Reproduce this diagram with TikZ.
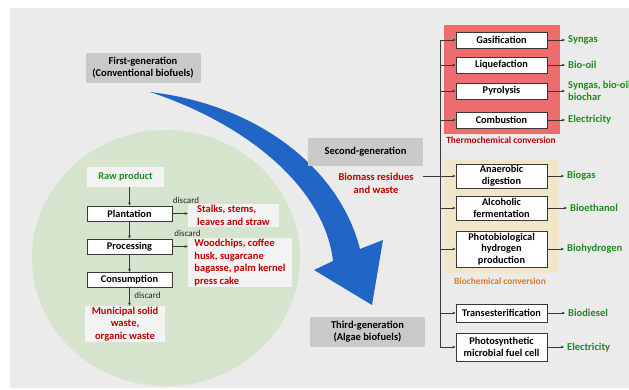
\documentclass[tikz,border=0pt]{standalone}
\usepackage{fontspec}
\setmainfont{Carlito}
\usetikzlibrary{arrows.meta,calc}
\definecolor{bgc}{HTML}{EBEBEB}
\definecolor{circc}{HTML}{D6E3CD}
\definecolor{genc}{HTML}{C9C9C9}
\definecolor{bluec}{HTML}{2166C6}
\definecolor{redt}{HTML}{C00000}
\definecolor{greent}{HTML}{1E8A1E}
\definecolor{thermoc}{HTML}{EC6D6E}
\definecolor{bioc}{HTML}{F2E6C9}
\definecolor{oranget}{HTML}{DE7A22}
\definecolor{boxline}{HTML}{383838}
\definecolor{lblfill}{HTML}{F3F3F3}
\newcommand\fsz[2]{\fontsize{#1}{#2}\selectfont}
\tikzset{
  procbox/.style={draw=boxline, line width=0.9pt, fill=white, minimum width=91pt, align=center, inner sep=0pt, font=\bfseries\fsz{10.3}{11.8}},
  leftbox/.style={draw=boxline, line width=0.9pt, fill=white, minimum width=85pt, minimum height=15pt, align=center, inner sep=0pt, font=\bfseries\fsz{10.3}{11.8}},
  genbox/.style={fill=genc, minimum width=115pt, align=center, inner sep=0pt, font=\bfseries\fsz{10.5}{12}},
  redlbl/.style={fill=lblfill, align=left, inner sep=0pt, text=redt, font=\bfseries\fsz{10.5}{12.5}},
  outlbl/.style={anchor=west, align=left, inner sep=0pt, text=greent, font=\bfseries\fsz{10.5}{12.5}},
  disc/.style={inner sep=0pt, font=\fsz{9}{10}, text=black!85},
  conn/.style={draw=boxline, line width=0.7pt},
  arr/.style={conn, -{Stealth[length=3.2pt,width=2.8pt]}},
}
\begin{document}
\begin{tikzpicture}[x=1pt,y=-1pt]
\useasboundingbox (0,0) rectangle (629,390);
\fill[white] (0,0) rectangle (629,390);
\fill[bgc] (10,8) rectangle (629,388);
\begin{scope}
  \clip (10,8) rectangle (629,388);
  \fill[circc] (166,258) ellipse [x radius=134, y radius=128];
\end{scope}

% blue arrow
\fill[bluec] (150,92) .. controls (260,105) and (340,170) .. (360,249)
  -- (383,240) -- (372,305) -- (314,270) -- (333,261)
  .. controls (325,190) and (250,125) .. (150,92) -- cycle;

% generation boxes
\node[genbox, minimum height=30pt] (first) at (143,68) {First-generation\\(Conventional biofuels)};
\node[genbox, minimum height=28pt] (second) at (365.5,152) {Second-generation};
\node[genbox, minimum height=30pt] (third) at (367.5,332) {Third-generation\\(Algae biofuels)};
\node[align=center, inner sep=0pt, text=redt, font=\bfseries\fsz{10.5}{12.5}] (biomass) at (376,183.5) {Biomass residues\\and waste};

% left chain
\node[fill=lblfill, minimum width=77pt, minimum height=20pt, inner sep=0pt, text=greent, font=\bfseries\fsz{10.3}{11}] (raw) at (125.5,177) {Raw product};
\node[leftbox] (plant) at (129.5,213.5) {Plantation};
\node[leftbox] (proc) at (129.5,246.5) {Processing};
\node[leftbox] (cons) at (129.5,280) {Consumption};
\node[redlbl, align=center, minimum width=80pt, minimum height=36pt] (muni) at (125,324) {Municipal solid\\waste,\\organic waste};
\node[redlbl, minimum width=91pt, minimum height=23pt] (stalks) at (233.5,215.5) {Stalks, stems,\\leaves and straw};
\node[redlbl, minimum width=104pt, minimum height=49pt] (wood) at (240,262.5) {Woodchips, coffee\\husk, sugarcane\\bagasse, palm kernel\\press cake};

\draw[arr] (raw.south -| plant.north) -- (plant.north);
\draw[arr] (plant.south) -- (proc.north);
\draw[arr] (proc.south) -- (cons.north);
\draw[arr] (cons.south) -- (cons.south |- muni.north);
\draw[arr] (plant.east) -- (plant.east -| stalks.west);
\draw[arr] (proc.east) -- (proc.east -| wood.west);
\node[disc] (d1) at (186,200.5) {discard};
\node[disc] (d2) at (187.5,233) {discard};
\node[disc] (d3) at (147.5,295.5) {discard};

% panels
\fill[thermoc] (444,25) rectangle (560,134);
\fill[bioc] (444,159) rectangle (559,273);
\node[inner sep=0pt, text=redt, font=\bfseries\fsz{9.4}{10}] (thermolbl) at (501,140.5) {Thermochemical conversion};
\node[inner sep=0pt, text=oranget, font=\bfseries\fsz{9.4}{10}] (biolbl) at (500,281) {Biochemical conversion};

% process boxes
\node[procbox, minimum height=16pt] (gas) at (501.5,40) {Gasification};
\node[procbox, minimum height=16pt] (liq) at (501.5,65) {Liquefaction};
\node[procbox, minimum height=16pt] (pyr) at (501.5,91) {Pyrolysis};
\node[procbox, minimum height=16pt] (comb) at (501.5,120) {Combustion};
\node[procbox, minimum height=24pt] (anaer) at (501.5,176) {Anaerobic\\digestion};
\node[procbox, minimum height=24pt] (alc) at (501.5,208) {Alcoholic\\fermentation};
\node[procbox, minimum height=36pt] (photo) at (501.5,249) {Photobiological\\hydrogen\\production};
\node[procbox, minimum height=18pt] (trans) at (501.5,313) {Transesterification};
\node[procbox, minimum height=28pt] (pmfc) at (501.5,347) {Photosynthetic\\microbial fuel cell};

% outputs
\node[outlbl] (o1) at (568,40) {Syngas};
\node[outlbl] (o2) at (568,65) {Bio-oil};
\node[outlbl] (o3) at (568,91) {Syngas, bio-oil,\\biochar};
\node[outlbl] (o4) at (568,120) {Electricity};
\node[outlbl] (o5) at (567,176) {Biogas};
\node[outlbl] (o6) at (570,208) {Bioethanol};
\node[outlbl] (o7) at (567,249) {Biohydrogen};
\node[outlbl] (o8) at (568,313) {Biodiesel};
\node[outlbl] (o9) at (567,348) {Electricity};

\foreach \b/\o in {gas/o1,liq/o2,pyr/o3,comb/o4,anaer/o5,alc/o6,photo/o7,trans/o8,pmfc/o9}
  \draw[arr] (\b.east) -- ($(\b.east -| \o.west)+(-3,0)$);

% trunk
\coordinate (ttop) at (440,40);
\coordinate (tbot) at (440,347);
\draw[conn] (ttop) -- (tbot);
\foreach \b in {gas,liq,pyr,comb,alc,photo,trans,pmfc}
  \draw[arr] (\b.west -| ttop) -- (\b.west);
\coordinate (bstart) at (423,176);
\draw[arr] (bstart) -- (anaer.west);
\end{tikzpicture}
\end{document}
